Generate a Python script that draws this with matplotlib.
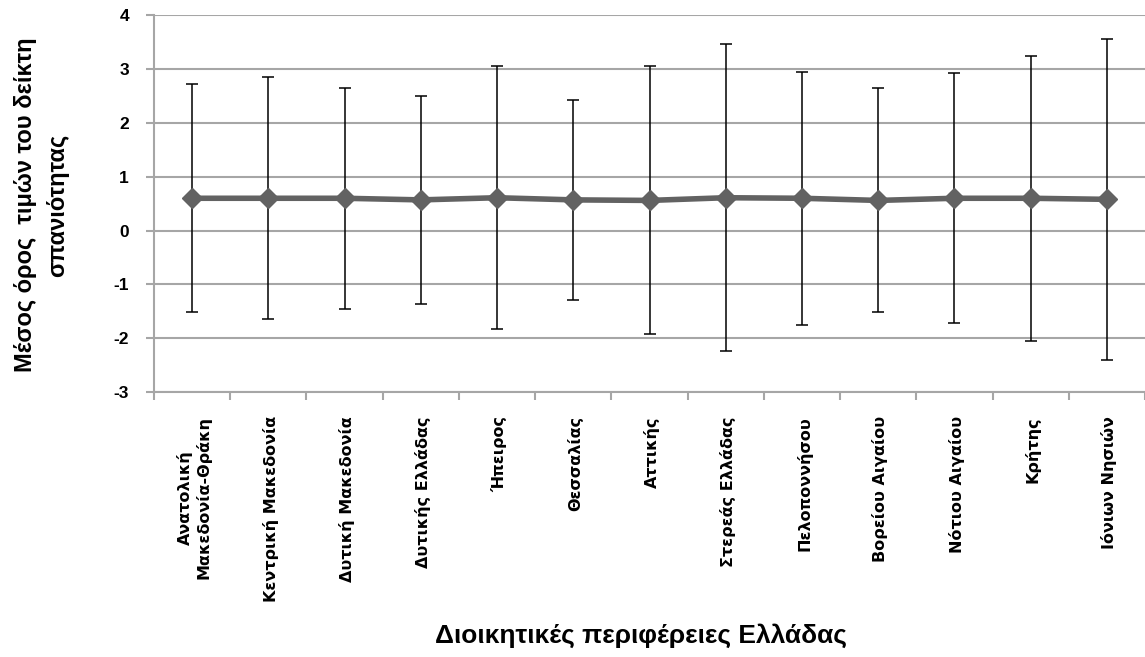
import matplotlib
matplotlib.use("Agg")
import matplotlib.pyplot as plt
import numpy as np

regions = [
    "Ανατολική\nΜακεδονία-Θράκη",
    "Κεντρική Μακεδονία",
    "Δυτική Μακεδονία",
    "Δυτικής Ελλάδας",
    "Ήπειρος",
    "Θεσσαλίας",
    "Αττικής",
    "Στερεάς Ελλάδας",
    "Πελοποννήσου",
    "Βορείου Αιγαίου",
    "Νότιου Αιγαίου",
    "Κρήτης",
    "Ιόνιων Νησιών",
]
mean_index = [0.60, 0.60, 0.60, 0.57, 0.61, 0.57, 0.56, 0.61, 0.60, 0.56, 0.60, 0.60, 0.58]
std_index = [2.12, 2.25, 2.05, 1.93, 2.44, 1.86, 2.49, 2.85, 2.35, 2.08, 2.32, 2.65, 2.98]
y_ticks = [-3, -2, -1, 0, 1, 2, 3, 4]

plt.rcParams['font.family'] = ['Liberation Sans', 'DejaVu Sans']

fig = plt.figure(figsize=(11.45, 6.57), dpi=100)
ax = fig.add_axes([154 / 1145, 1 - 392 / 657, 1 - 154 / 1145, (392 - 15.3) / 657])

x = np.arange(len(regions))
grid_col = "#a6a6a6"

# mean ± one standard deviation per region
ax.errorbar(x, mean_index, yerr=std_index, fmt="none", ecolor="black",
            elinewidth=1.1, capsize=4, capthick=1.1, zorder=3)
ax.plot(x, mean_index, color="#626262", linewidth=4, marker="D",
        markersize=10, markerfacecolor="#626262", markeredgecolor="#626262",
        zorder=4)

ax.set_xlim(-0.5, len(regions) - 0.5)
ax.set_ylim(-3, 4)
ax.set_yticks(y_ticks)
ax.set_yticklabels([str(v) for v in y_ticks], fontsize=12.5, fontweight="bold")
ax.yaxis.grid(True, color=grid_col, linewidth=1.5)
ax.set_axisbelow(True)

# ticks sit on the boundaries between categories
ax.set_xticks(np.arange(len(regions) + 1) - 0.5, minor=False)
ax.set_xticklabels([])
ax.tick_params(axis="x", length=6, width=1.5, color=grid_col, direction="out")
ax.tick_params(axis="y", length=6, width=1.5, color=grid_col, direction="out", pad=12)

for side in ["top", "right"]:
    ax.spines[side].set_visible(False)
for side in ["left", "bottom"]:
    ax.spines[side].set_color(grid_col)
    ax.spines[side].set_linewidth(1.5)

for i, name in enumerate(regions):
    ax.text(i + 0.03, -3.45, name, rotation=90, ha="center", va="top",
            fontsize=11.5, fontweight="bold", family="DejaVu Sans",
            multialignment="center", linespacing=1.2,
            transform=ax.transData, clip_on=False)

fig.text(641 / 1145, 1 - 636 / 657, "Διοικητικές περιφέρειες Ελλάδας",
         ha="center", va="center", fontsize=19, fontweight="bold")
fig.text(42 / 1145, 1 - 205 / 657, "Μέσος όρος  τιμών του δείκτη\nσπανιότητας",
         ha="center", va="center", rotation=90, fontsize=17, fontweight="bold",
         multialignment="center", linespacing=1.5)

fig.savefig("out.png", dpi=100, facecolor="white")
